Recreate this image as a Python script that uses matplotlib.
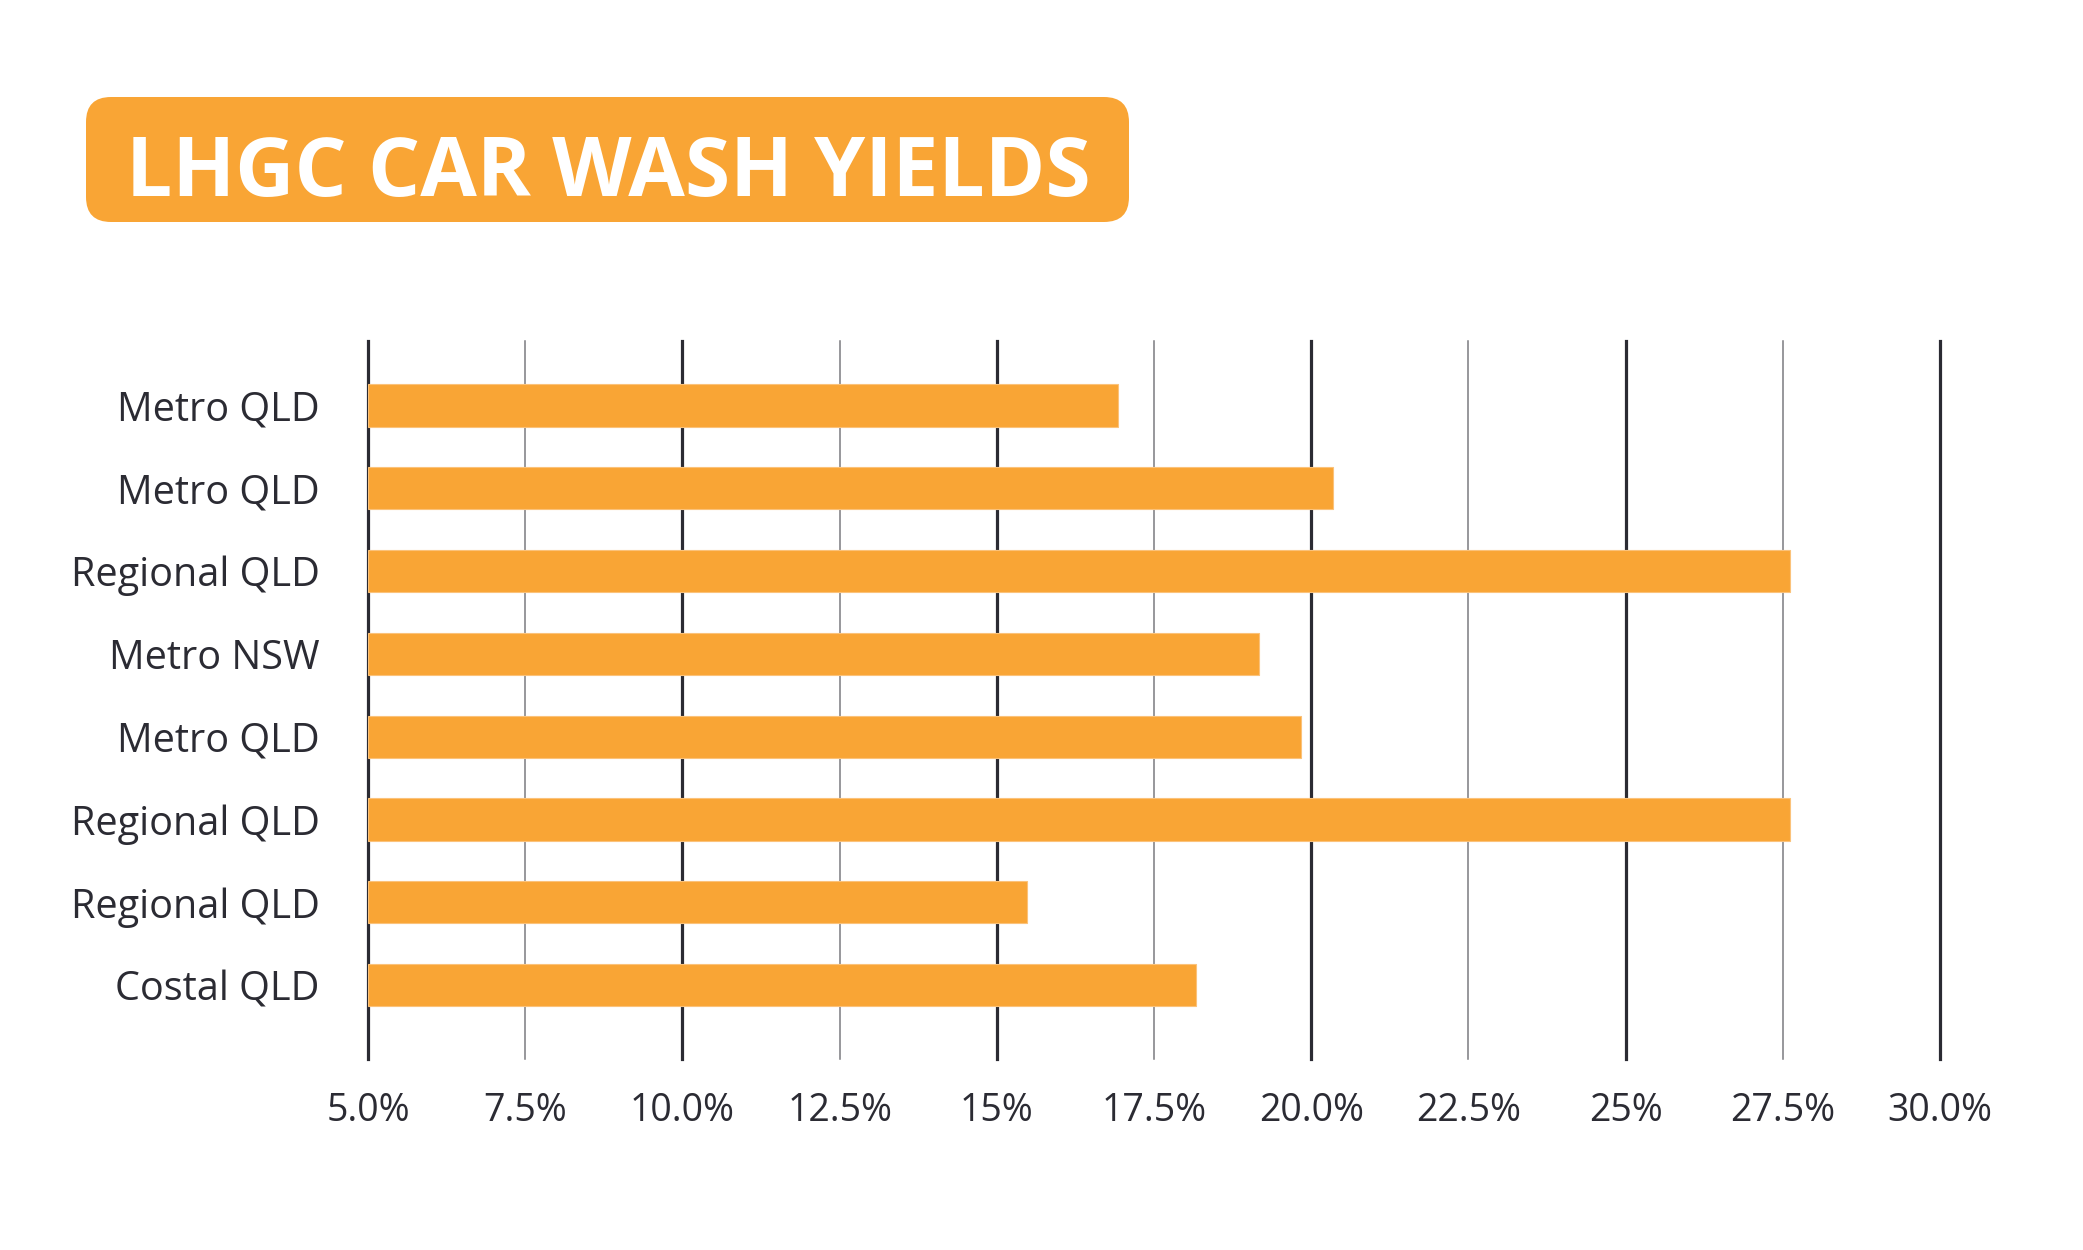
import numpy as np
import matplotlib.pyplot as plt
from matplotlib.patches import FancyBboxPatch

# data
regions = ["Metro QLD", "Metro QLD", "Regional QLD", "Metro NSW",
           "Metro QLD", "Regional QLD", "Regional QLD", "Costal QLD"]
yields = [16.93, 20.34, 27.62, 19.17, 19.83, 27.62, 15.48, 18.17]
tick_vals = [5.0, 7.5, 10.0, 12.5, 15.0, 17.5, 20.0, 22.5, 25.0, 27.5, 30.0]
tick_labels = ["5.0%", "7.5%", "10.0%", "12.5%", "15%", "17.5%", "20.0%",
               "22.5%", "25%", "27.5%", "30.0%"]

orange = "#F9A535"
dark = "#2B2B33"

plt.rcParams['font.family'] = ['Open Sans', 'DejaVu Sans']

fig = plt.figure(figsize=(20.83, 12.5), dpi=100)
ax = fig.add_axes([368 / 2083, 1 - 1059 / 1250, (1940 - 368) / 2083, (1059 - 341) / 1250])

y = np.arange(len(regions))
base = tick_vals[0]
ax.barh(y, np.array(yields) - base, left=base, height=0.51, color=orange,
        edgecolor="#FBC27A", linewidth=0.8, zorder=3)

# vertical grid lines: whole-number steps heavy, half steps light
for v in tick_vals:
    if v % 5 == 0:
        ax.axvline(v, color=dark, lw=2.3, zorder=1, clip_on=False)
    else:
        ax.axvline(v, color="#7A7A80", lw=1.1, zorder=1, clip_on=False)

ax.set_xlim(5, 30)
ax.set_ylim(7.893, -0.779)
ax.set_xticks(tick_vals)
ax.set_xticklabels(tick_labels)
ax.set_yticks(y)
ax.set_yticklabels(regions)
ax.tick_params(axis='x', length=0, pad=24, labelsize=27, labelcolor=dark)
ax.tick_params(axis='y', length=0, pad=35, labelsize=28.5, labelcolor=dark)
for s in ax.spines.values():
    s.set_visible(False)

# title badge
box = FancyBboxPatch((86 / 2083, 1 - 222 / 1250), (1129 - 86) / 2083, (222 - 97) / 1250,
                     boxstyle="round,pad=0,rounding_size=0.012",
                     transform=fig.transFigure, facecolor=orange, edgecolor="none",
                     mutation_aspect=2083 / 1250)
fig.patches.append(box)
fig.text(126 / 2083, 1 - 196 / 1250, "LHGC CAR WASH YIELDS", color="white",
         fontsize=59, fontweight="bold", va="baseline", ha="left")

fig.savefig("out.png", dpi=100, facecolor="white")
